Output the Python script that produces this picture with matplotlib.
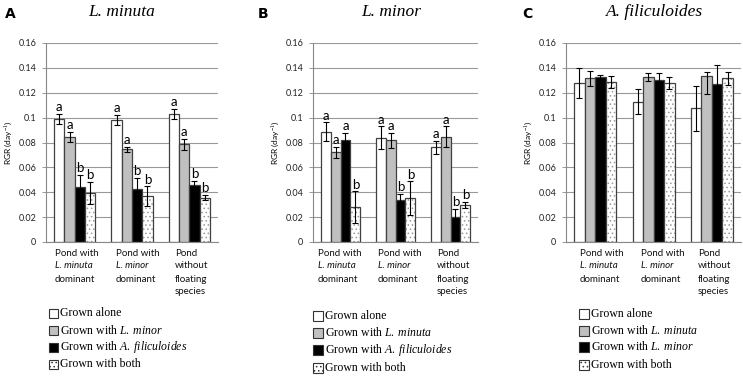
import matplotlib
matplotlib.use("Agg")
import matplotlib.pyplot as plt
from matplotlib.patches import Rectangle
import numpy as np

plt.rcParams['mathtext.fontset'] = 'custom'
plt.rcParams['mathtext.rm'] = 'Liberation Serif'
plt.rcParams['mathtext.it'] = 'Liberation Serif:italic'
plt.rcParams['hatch.linewidth'] = 0.6

# ---------------- data ----------------
groups = ["g1", "g2", "g3"]
cat_lines = [
    [("Pond with", False), ("L. minuta", True), ("dominant", False)],
    [("Pond with", False), ("L. minor", True), ("dominant", False)],
    [("Pond", False), ("without", False), ("floating", False), ("species", False)],
]

titles = ["L. minuta", "L. minor", "A. filiculoides"]
letters_panel = ["A", "B", "C"]

# values per treatment (rows: alone, with sp1, with sp2, with both), cols: groups
A_vals = [[0.099, 0.098, 0.103],
          [0.0845, 0.0747, 0.0787],
          [0.0445, 0.0427, 0.0461],
          [0.0392, 0.0368, 0.0357]]
A_err = [[0.004, 0.004, 0.0043],
         [0.004, 0.002, 0.0045],
         [0.0093, 0.0088, 0.003],
         [0.009, 0.008, 0.002]]
A_sig = [["a", "a", "a"], ["a", "a", "a"], ["b", "b", "b"], ["b", "b", "b"]]

B_vals = [[0.0888, 0.084, 0.076],
          [0.072, 0.0819, 0.0845],
          [0.0819, 0.0341, 0.0205],
          [0.028, 0.0352, 0.030]]
B_err = [[0.0073, 0.009, 0.0053],
         [0.0045, 0.006, 0.0085],
         [0.006, 0.0044, 0.0063],
         [0.0127, 0.0136, 0.0024]]
B_sig = [["a", "a", "a"], ["a", "a", "a"], ["a", "b", "b"], ["b", "b", "b"]]

C_vals = [[0.128, 0.1128, 0.1075],
          [0.1315, 0.1325, 0.1333],
          [0.1325, 0.1299, 0.1272],
          [0.1288, 0.128, 0.1315]]
C_err_lo = [[0.012, 0.010, 0.018],
            [0.006, 0.003, 0.0146],
            [0.002, 0.0057, 0.0155],
            [0.0047, 0.005, 0.0053]]
C_err_hi = [[0.012, 0.010, 0.018],
            [0.006, 0.003, 0.0035],
            [0.002, 0.0057, 0.0155],
            [0.0047, 0.005, 0.0053]]

legend_A = ["Grown alone", "Grown with $\\mathit{L.\\;minor}$",
            "Grown with $\\mathit{A.\\;filiculoides}$", "Grown with both"]
legend_B = ["Grown alone", "Grown with $\\mathit{L.\\;minuta}$",
            "Grown with $\\mathit{A.\\;filiculoides}$", "Grown with both"]
legend_C = ["Grown alone", "Grown with $\\mathit{L.\\;minuta}$",
            "Grown with $\\mathit{L.\\;minor}$", "Grown with both"]

yticks = [0, 0.02, 0.04, 0.06, 0.08, 0.1, 0.12, 0.14, 0.16]
ytick_labels = ["0", "0.02", "0.04", "0.06", "0.08", "0.1", "0.12", "0.14", "0.16"]

# ---------------- style ----------------
W, H = 743, 376
fig = plt.figure(figsize=(W / 100, H / 100), dpi=100)

fills = ["white", "#c0c0c0", "black", "white"]
edge = "#404040"
sans = "Lato"

def fx(px):
    return px / W

def fy(py):
    return 1 - py / H

panels = [
    dict(left=46, right=218, vals=A_vals, lo=A_err, hi=A_err, sig=A_sig,
         leg=legend_A, title_x=122, letter_x=10, cat_off=[-0.35, -0.28, -0.25],
         leg_x=49, leg_y=[313, 330, 347, 364], box=9),
    dict(left=313, right=478, vals=B_vals, lo=B_err, hi=B_err, sig=B_sig,
         leg=legend_B, title_x=391, letter_x=263, cat_off=[-0.41, -0.32, -0.25],
         leg_x=313, leg_y=[316, 333, 350, 368], box=10),
    dict(left=566, right=741, vals=C_vals, lo=C_err_lo, hi=C_err_hi, sig=None,
         leg=legend_C, title_x=655, letter_x=527, cat_off=[-0.26, -0.22, -0.24],
         leg_x=579, leg_y=[314, 331, 347, 365], box=10),
]

top_px, bot_px = 43, 242
bw = 0.18
x = np.arange(len(groups))

for p_i, p in enumerate(panels):
    ax = fig.add_axes([fx(p["left"]), fy(bot_px), (p["right"] - p["left"]) / W,
                       (bot_px - top_px) / H])
    ax.set_xlim(-0.5, 2.5)
    ax.set_ylim(0, 0.16)
    ax.set_yticks(yticks)
    ax.set_yticklabels(ytick_labels, fontsize=6.5, family=sans, color="#222222")
    ax.tick_params(axis='y', length=3, width=0.6, color="#888888", pad=4)
    ax.set_xticks([])
    ax.grid(axis='y', color="#999999", linewidth=0.8)
    ax.set_axisbelow(True)
    for s in ["top", "right"]:
        ax.spines[s].set_visible(False)
    ax.spines["left"].set_color("#888888")
    ax.spines["bottom"].set_color("#888888")
    ax.spines["left"].set_linewidth(0.8)
    ax.spines["bottom"].set_linewidth(0.8)
    ax.set_ylabel("RGR (day$^{-1}$)", fontsize=6, family=sans, labelpad=3)

    for t in range(4):
        xs = x + (t - 1.5) * bw
        vals = p["vals"][t]
        yerr = [p["lo"][t], p["hi"][t]]
        if t == 3:
            ax.bar(xs, vals, bw, color="white", edgecolor="#9a9a9a", hatch="....",
                   linewidth=0, zorder=2)
            ax.bar(xs, vals, bw, fill=False, edgecolor=edge, linewidth=0.9, zorder=3)
        else:
            ax.bar(xs, vals, bw, color=fills[t], edgecolor=edge, linewidth=0.9, zorder=2)
        ax.errorbar(xs, vals, yerr=yerr, fmt='none', ecolor="black", elinewidth=0.8,
                    capsize=2, capthick=0.8, zorder=4)
        if p["sig"] is not None:
            for g in range(len(groups)):
                ax.annotate(p["sig"][t][g], (xs[g], vals[g] + p["hi"][t][g]),
                            xytext=(0, 0.5), textcoords="offset points",
                            ha="center", va="bottom", fontsize=9.5, family=sans,
                            annotation_clip=False)

    # category labels
    line_y = [254, 266, 279, 291]
    trans = matplotlib.transforms.blended_transform_factory(ax.transData, fig.transFigure)
    for g in range(len(groups)):
        for li, (txt, ital) in enumerate(cat_lines[g]):
            ax.text(x[g] + p["cat_off"][g], fy(line_y[li]), txt, transform=trans,
                    ha="left", va="center", fontsize=7, family=sans,
                    style="italic" if ital else "normal", color="#111111")

    # title and panel letter
    fig.text(fx(p["title_x"]), fy(12), titles[p_i], ha="center", va="center",
             fontsize=12.5, family="Liberation Serif", style="italic")
    fig.text(fx(p["letter_x"]), fy(14), letters_panel[p_i], ha="center", va="center",
             fontsize=10, family="DejaVu Sans", weight="bold")

    # legend (manual)
    b = p["box"]
    for li, lab in enumerate(p["leg"]):
        cy = p["leg_y"][li]
        bx0 = p["leg_x"]
        r = Rectangle((fx(bx0), fy(cy + b / 2)), b / W, b / H, transform=fig.transFigure,
                      facecolor=fills[li], edgecolor="#333333", linewidth=0.8,
                      hatch="...." if li == 3 else None)
        fig.add_artist(r)
        fig.text(fx(bx0 + b + 2), fy(cy), lab, ha="left", va="center", fontsize=8.5,
                 family="Liberation Serif")

fig.savefig("out.png", dpi=100)
